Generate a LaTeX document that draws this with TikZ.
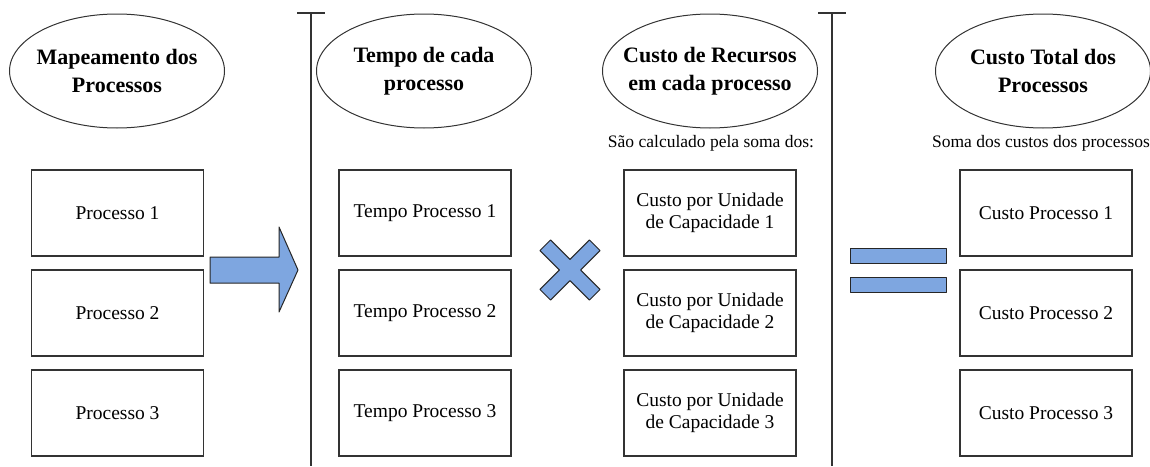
\documentclass[tikz,border=0pt]{standalone}
\usepackage{fontspec}
\setmainfont{Liberation Serif}
\usetikzlibrary{positioning,shapes.geometric}
\definecolor{simboloazul}{RGB}{126,166,224}
\definecolor{bordacinza}{RGB}{51,51,51}

\begin{document}
\begin{tikzpicture}[x=1pt, y=-1pt, node distance=100pt,
  etapa/.style={ellipse, draw=bordacinza, line width=1pt, minimum width=215pt, minimum height=114pt, inner xsep=-18pt, inner ysep=0pt, align=center, font=\fontsize{22}{28}\selectfont\bfseries},
  caixa/.style={rectangle, draw=bordacinza, line width=1.2pt, minimum width=172pt, minimum height=86pt, inner sep=0pt, align=center, font=\fontsize{19.5}{22}\selectfont},
  nota/.style={inner sep=0pt, font=\fontsize{17.5}{20}\selectfont},
  simbolo/.style={fill=simboloazul, draw=black!85, line width=1pt, line join=round}]
\useasboundingbox (0,0) rectangle (1150,466);

\node (e1) [etapa] at (117,71) {Mapeamento dos\\Processos};
\node (e2) [etapa] at (424,71) {Tempo de cada\\processo};
\node (e3) [etapa] at (710,71) {Custo de Recursos\\em cada processo};
\node (e4) [etapa] at (1043,71) {Custo Total dos\\Processos};

\node (n3) [nota] at (711,143) {São calculado pela soma dos:};
\node (n4) [nota] at (1041,143) {Soma dos custos dos processos};

\node (p1) [caixa] at (117.5,213) {Processo 1};
\node (p2) [caixa, below of=p1] {Processo 2};
\node (p3) [caixa, below of=p2] {Processo 3};
\node (t1) [caixa] at (425,213) {Tempo Processo 1};
\node (t2) [caixa, below of=t1] {Tempo Processo 2};
\node (t3) [caixa, below of=t2] {Tempo Processo 3};
\node (c1) [caixa] at (710,213) {Custo por Unidade\\de Capacidade 1};
\node (c2) [caixa, below of=c1] {Custo por Unidade\\de Capacidade 2};
\node (c3) [caixa, below of=c2] {Custo por Unidade\\de Capacidade 3};
\node (s1) [caixa] at (1046,213) {Custo Processo 1};
\node (s2) [caixa, below of=s1] {Custo Processo 2};
\node (s3) [caixa, below of=s2] {Custo Processo 3};

\draw [bordacinza, line width=1.2pt] (311,13) -- (311,466);
\draw [bordacinza, line width=1.2pt] (297,13) -- (325,13);
\draw [bordacinza, line width=1.2pt] (832,13) -- (832,466);
\draw [bordacinza, line width=1.2pt] (818,13) -- (846,13);

\filldraw [simbolo] (210,257) -- (279,257) -- (279,227) -- (298,270) -- (279,312) -- (279,283) -- (210,283) -- cycle;

\begin{scope}[shift={(570,270)}, rotate=45]
\filldraw [simbolo] (-7.5,35) -- (7.5,35) -- (7.5,7.5) -- (35,7.5) -- (35,-7.5) -- (7.5,-7.5) -- (7.5,-35) -- (-7.5,-35) -- (-7.5,-7.5) -- (-35,-7.5) -- (-35,7.5) -- (-7.5,7.5) -- cycle;
\end{scope}

\filldraw [simbolo] (850,248) rectangle (946,263);
\filldraw [simbolo] (850,277) rectangle (946,292);
\end{tikzpicture}
\end{document}
